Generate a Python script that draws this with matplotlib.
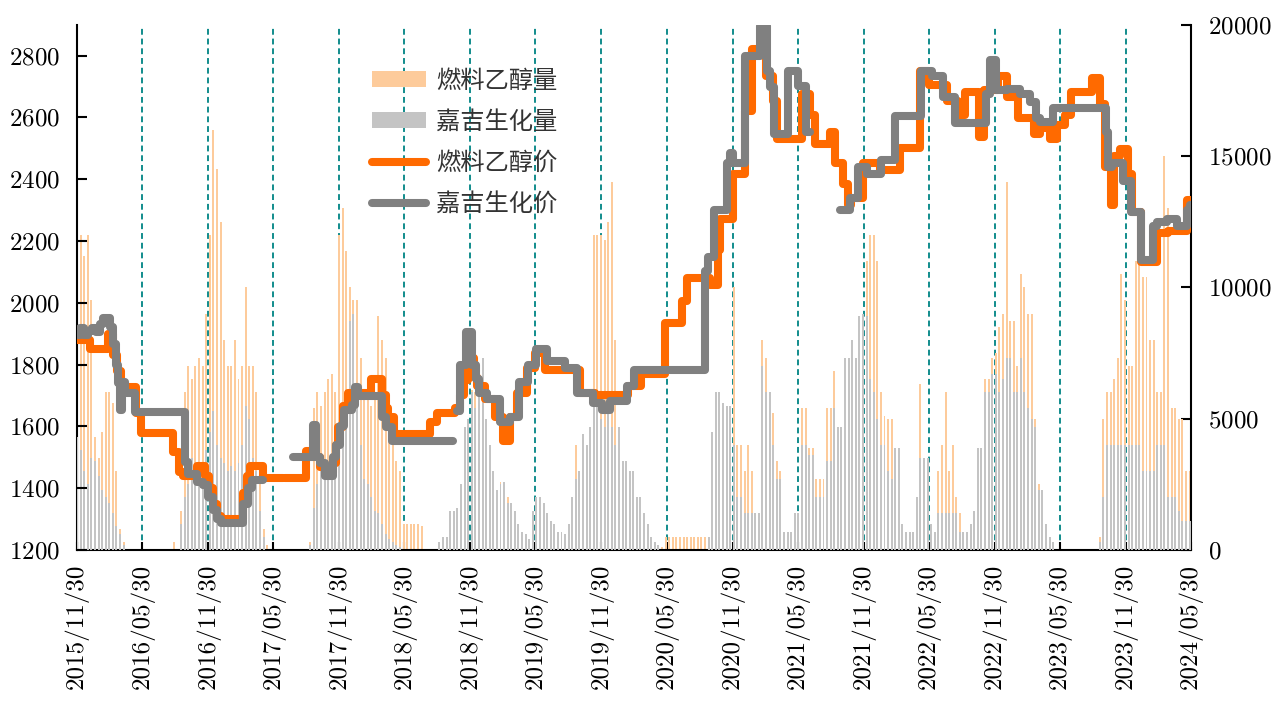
import numpy as np
import pandas as pd
import matplotlib
matplotlib.use("Agg")
import matplotlib.pyplot as plt

plt.rcParams['font.family'] = ['cmr10', 'Noto Sans CJK SC', 'DejaVu Sans']
plt.rcParams['axes.formatter.use_mathtext'] = True

# ---- volume (right axis), one value per 10 days starting 2015-11-30 ----
vol_start = '2015-11-30'
ethanol_vol = [
    # 2015/11 - 2016/05
    11500, 12000, 11200, 12000, 9500, 4300, 3500, 4500, 6000, 6000, 5600, 3000, 800, 300, 0, 0, 0, 0,
    # 2016/05 - 2016/11
    0, 0, 0, 0, 0, 0, 0, 0, 0, 300, 0,
    1500, 6000, 7000, 6500, 7000, 7300, 7000, 9000,
    # 2016/11 - 2017/05
    12000, 16000, 14500, 12500, 8000, 7000, 7000, 8000, 6500, 7000, 10000, 7000, 7000, 6000, 2500, 800, 200, 0,
    # 2017/05 - 2018/05
    0, 0, 0, 0, 0, 0, 0, 0, 0, 0,
    300, 5400, 6000, 5500, 6000, 6500, 6700, 6000, 12000, 13000, 11400, 10000, 9500, 9500, 7300, 6000,
    6000, 5500, 6000, 8900, 8000, 7300, 5400, 5000, 3400, 3000,
    # 2018/05 - 2019/05
    1000, 1000, 1000, 1000, 1000, 900,
    0, 0, 0, 0, 0, 0, 0, 0, 0,
    200, 300, 500, 1500, 6100, 6000, 6000, 4000, 4000, 2000, 2000, 2000, 2600, 2600, 2000, 1500, 1000,
    500, 300, 200, 100,
    # 2019/05 - 2020/05
    200, 1000, 1400, 1000, 800, 600, 400, 300, 200, 200, 200, 1500, 4000, 2000, 2000, 2500, 3400,
    12000, 12000, 12000, 11800, 12500, 14000, 8000, 3000, 3000, 2500, 2500, 2000, 2000, 1000, 700,
    400, 300, 300, 200, 100,
    # 2020/05 - 2020/11
    500, 500, 500, 500, 500, 500, 500, 500, 500, 500, 500, 500, 500,
    # 2020/11 - 2021/11
    300, 800, 1500, 2000, 3000, 4500, 10000, 4000, 4000, 3000, 4000, 3000, 1400, 1400, 8000, 7300,
    5200, 5200, 3400, 3000, 700, 700, 700, 700, 700, 5400, 5400, 3900, 3900, 2700, 2700, 2700, 5400,
    5400, 6800, 4700, 4700, 4700, 4700, 4700,
    # 2021/11 - 2023/05
    5000, 5000, 8000, 11000, 12000, 12000, 11000, 6000, 5100, 5000, 5000, 3000, 3000, 700, 500, 700,
    500, 2000, 6300, 3000, 2500, 500, 700, 3000, 4000, 6000, 3000, 4000, 2000, 1400, 700, 500, 400,
    500, 1500, 2500, 6500, 6500, 7300, 7500, 8500, 9000, 14000, 8700, 8700, 7000, 10500, 10000, 9000,
    9000, 5000, 2500, 1500, 500, 300,
    # 2023/05 - 2024/05
    0, 0, 0, 0, 0, 0, 0, 0, 0, 0, 0, 0, 0,
    500, 5000, 6000, 6000, 6500, 7300, 10500, 9500, 7000, 7000, 11000, 11000, 10400, 10400, 8000,
    8000, 6000, 6000, 15000, 13000, 5400, 5400, 5000, 5000, 3000, 3000,
]
jiaji_vol = [
    4300, 3800, 3000, 2500, 3500, 3400, 2800, 2300, 2000, 1800, 1400, 900, 600, 200, 0, 0, 0, 0,
    0, 0, 0, 0, 0, 0, 0, 0, 0, 0, 0,
    1000, 2000, 2500, 3500, 2800, 3000, 3200, 3800,
    4500, 5300, 4000, 3500, 3300, 3000, 3200, 3000, 3300, 4000, 5500, 5000, 3500, 3000, 1500, 500, 0, 0,
    0, 0, 0, 0, 0, 0, 0, 0, 0, 0,
    200, 1600, 2500, 3400, 3000, 3000, 2700, 2700, 3500, 4700, 4700, 8700, 9000, 5400, 4000, 2700,
    2500, 2000, 1500, 1400, 1000, 600, 400, 300, 200, 100,
    0, 0, 0, 0, 0, 0, 0, 0, 0, 0,
    300, 500, 500, 1500, 1500, 1600, 2500, 4700, 5000, 6000, 5400, 6700, 7300, 5000, 4000, 3000,
    2300, 2500, 2600, 1800, 1800, 1500, 1000, 700, 600, 400,
    1500, 2000, 2000, 1800, 1400, 1100, 1000, 700, 700, 600, 1000, 2000, 2700, 3000, 4400, 4000,
    4700, 5900, 5900, 5000, 4700, 5400, 4700, 4000, 4700, 3400, 3400, 3000, 3000, 2000, 2000, 1400,
    1000, 500, 300, 200, 0,
    0, 0, 0, 0, 0, 0, 0, 0, 0, 0, 0, 0, 500,
    4500, 6000, 6000, 5600, 5500, 5500, 4000, 2000, 2000, 1400, 1400, 1400, 1400, 1400, 7000, 6000,
    6000, 4000, 2700, 2700, 700, 700, 700, 1400, 1400, 4000, 4000, 3600, 3600, 2000, 2000, 2000, 3400,
    3400, 5400, 4700, 4700, 7300, 7300, 8000,
    7300, 8900, 9000, 8900, 6500, 6000, 5000, 4000, 4000, 3000, 2700, 3900, 3900, 1000, 700, 700,
    700, 2000, 3500, 3500, 3500, 1000, 700, 1400, 1400, 1400, 1400, 1400, 1400, 700, 700, 700, 1000,
    1500, 3900, 3900, 6000, 6000, 6700, 6700, 6000, 6500, 7300, 7300, 6000, 6000, 7300, 6000, 5400,
    5000, 4700, 2300, 2300, 1000, 500,
    300, 0, 0, 0, 0, 0, 0, 0, 0, 0, 0, 0, 0,
    300, 2000, 4000, 4000, 4000, 4000, 4000, 4000, 4000, 4000, 4000, 4000, 3000, 3000, 3000, 3000,
    4000, 4000, 4000, 2000, 2000, 2000, 1500, 1100, 1100, 1100,
]

# ---- prices (left axis), step points (date, value); nan = no quote ----
nan = np.nan
ethanol_price = [
    ('2015-11-30', 1880), ('2016-01-05', 1850), ('2016-02-24', 1900), ('2016-03-09', 1830),
    ('2016-03-20', 1780), ('2016-04-01', 1726), ('2016-05-12', 1642), ('2016-05-26', 1580),
    ('2016-08-24', 1518), ('2016-09-09', 1451), ('2016-09-20', 1440), ('2016-10-29', 1473),
    ('2016-11-20', 1440), ('2016-12-02', 1400), ('2016-12-13', 1350), ('2016-12-24', 1310),
    ('2017-01-04', 1300), ('2017-03-06', 1384), ('2017-03-18', 1440), ('2017-03-26', 1473),
    ('2017-05-01', 1434), ('2017-06-26', nan), ('2017-07-02', 1434), ('2017-08-29', 1521),
    ('2017-09-18', 1500), ('2017-10-07', 1470), ('2017-10-24', 1450), ('2017-11-12', 1480),
    ('2017-11-21', 1540), ('2017-11-26', 1597), ('2017-12-10', 1665), ('2017-12-24', 1708),
    ('2018-02-26', 1754), ('2018-03-29', 1700), ('2018-04-09', 1660), ('2018-04-14', 1631),
    ('2018-05-01', 1575), ('2018-08-10', 1614), ('2018-08-29', 1642), ('2018-10-18', 1660),
    ('2018-11-01', 1700), ('2018-11-12', 1750), ('2018-11-23', 1822), ('2018-12-10', 1760),
    ('2018-12-18', 1732), ('2019-01-10', 1687), ('2019-02-07', 1631), ('2019-03-01', 1552),
    ('2019-03-20', 1631), ('2019-04-09', 1709), ('2019-05-07', 1788), ('2019-05-29', 1839),
    ('2019-06-26', 1782), ('2019-10-02', 1709), ('2019-11-12', 1700), ('2020-02-12', 1732),
    ('2020-03-19', 1771), ('2020-05-25', 1934), ('2020-07-12', 2007), ('2020-07-26', 2080),
    ('2020-09-28', 2058), ('2020-10-20', 2170), ('2020-10-26', 2271), ('2020-12-01', 2417),
    ('2021-01-03', 2620), ('2021-01-23', 2822), ('2021-03-03', 2733), ('2021-03-22', 2654),
    ('2021-04-02', 2530), ('2021-06-11', 2677), ('2021-07-03', 2609), ('2021-07-17', 2513),
    ('2021-08-28', 2553), ('2021-09-11', 2451), ('2021-10-03', 2384), ('2021-10-17', 2317),
    ('2021-10-25', 2339), ('2021-11-28', 2451), ('2022-01-14', 2430), ('2022-03-11', 2501),
    ('2022-05-06', 2749), ('2022-05-31', 2704), ('2022-07-20', 2654), ('2022-08-20', 2609),
    ('2022-09-08', 2682), ('2022-10-17', 2536), ('2022-10-31', 2688), ('2022-12-09', 2733),
    ('2023-01-03', 2665), ('2023-02-03', 2598), ('2023-03-19', 2547), ('2023-04-05', 2564),
    ('2023-05-03', 2530), ('2023-05-23', 2575), ('2023-06-14', 2609), ('2023-06-30', 2682),
    ('2023-08-28', 2727), ('2023-09-19', 2643), ('2023-10-03', 2440), ('2023-10-20', 2317),
    ('2023-10-28', 2474), ('2023-11-14', 2496), ('2023-12-06', 2418), ('2023-12-18', 2294),
    ('2024-01-12', 2131), ('2024-02-25', 2226), ('2024-03-27', 2232), ('2024-05-19', 2333),
    ('2024-05-30', 2333),
]
jiaji_price = [
    ('2015-11-30', 1895), ('2015-12-08', 1918), ('2015-12-19', 1895), ('2015-12-31', 1910),
    ('2016-01-11', 1918), ('2016-01-22', 1905), ('2016-02-02', 1930), ('2016-02-11', 1951),
    ('2016-03-01', 1920), ('2016-03-09', 1867), ('2016-03-18', 1800), ('2016-03-23', 1740),
    ('2016-03-29', 1653), ('2016-04-04', 1743), ('2016-04-12', 1709), ('2016-05-10', 1648),
    ('2016-09-26', 1485), ('2016-10-04', 1445), ('2016-10-29', 1420), ('2016-11-15', 1410),
    ('2016-11-29', 1372), ('2016-12-13', 1330), ('2016-12-24', 1300), ('2017-01-04', 1288),
    ('2017-03-06', 1350), ('2017-03-20', 1400), ('2017-03-31', 1428), ('2017-05-01', nan),
    ('2017-07-24', 1500), ('2017-09-18', 1603), ('2017-09-26', 1500), ('2017-10-07', 1480),
    ('2017-10-21', 1440), ('2017-11-12', 1500), ('2017-11-21', 1541), ('2017-12-02', 1600),
    ('2017-12-13', 1653), ('2018-01-04', 1670), ('2018-01-12', 1726), ('2018-01-21', 1698),
    ('2018-03-29', 1631), ('2018-04-09', 1597), ('2018-04-26', 1552), ('2018-10-13', nan),
    ('2018-10-24', 1650), ('2018-11-01', 1800), ('2018-11-18', 1906), ('2018-12-04', 1800),
    ('2018-12-15', 1754), ('2018-12-24', 1709), ('2019-01-15', 1687), ('2019-02-21', 1614),
    ('2019-03-20', 1631), ('2019-04-14', 1743), ('2019-05-10', 1800), ('2019-06-01', 1850),
    ('2019-07-02', 1811), ('2019-08-21', 1788), ('2019-09-23', 1709), ('2019-11-07', 1676),
    ('2019-12-02', 1653), ('2019-12-24', 1681), ('2020-02-09', 1732), ('2020-02-29', 1782),
    ('2020-09-14', 2102), ('2020-09-22', 2148), ('2020-10-09', 2300), ('2020-11-14', 2451),
    ('2020-11-22', 2485), ('2020-12-01', 2451), ('2021-01-03', 2800), ('2021-02-14', 2895),
    ('2021-03-06', 2750), ('2021-03-14', 2699), ('2021-03-25', 2547), ('2021-05-03', 2749),
    ('2021-05-31', 2700), ('2021-06-22', 2553), ('2021-07-03', nan), ('2021-09-25', 2300),
    ('2021-10-23', 2339), ('2021-11-14', 2440), ('2021-12-09', 2417), ('2022-01-17', 2462),
    ('2022-02-25', 2603), ('2022-05-09', 2749), ('2022-06-08', 2733), ('2022-07-09', 2665),
    ('2022-08-11', 2581), ('2022-11-05', 2676), ('2022-11-16', 2784), ('2022-12-03', 2688),
    ('2023-01-03', 2693), ('2023-02-08', 2676), ('2023-03-08', 2648), ('2023-03-25', 2598),
    ('2023-04-05', 2586), ('2023-05-12', 2630), ('2023-10-06', 2553), ('2023-10-12', 2440),
    ('2023-10-23', 2451), ('2023-11-22', 2395), ('2023-12-15', 2294), ('2024-01-12', 2137),
    ('2024-02-14', 2249), ('2024-02-25', 2260), ('2024-03-24', 2272), ('2024-04-21', 2249),
    ('2024-05-19', 2300), ('2024-05-27', 2317), ('2024-05-30', 2317),
]

tick_dates = ['2015-11-30', '2016-05-30', '2016-11-30', '2017-05-30', '2017-11-30', '2018-05-30',
              '2018-11-30', '2019-05-30', '2019-11-30', '2020-05-30', '2020-11-30', '2021-05-30',
              '2021-11-30', '2022-05-30', '2022-11-30', '2023-05-30', '2023-11-30', '2024-05-30']
labels = ['燃料乙醇量', '嘉吉生化量', '燃料乙醇价', '嘉吉生化价']

c_bar_eth = '#FDCB9B'
c_bar_jj = '#C4C4C4'
c_line_eth = '#FF6A00'
c_line_jj = '#808080'

vol_dates = pd.date_range(vol_start, periods=len(ethanol_vol), freq='10D')
ticks = pd.to_datetime(tick_dates)

fig = plt.figure(figsize=(12.88, 7.07), dpi=100)
ax = fig.add_axes([77 / 1288, 1 - 550 / 707, 1114 / 1288, 525.4 / 707])
ax2 = ax.twinx()

# volume bars + half-year guides
for d in ticks[1:-1]:
    ax.axvline(d, color='#118C8C', lw=1.4, ls=(0, (3, 2)), zorder=1)
b1 = ax.bar(vol_dates, ethanol_vol, width=5.5, color=c_bar_eth, linewidth=0, zorder=2)
b2 = ax.bar(vol_dates, jiaji_vol, width=5.5, color=c_bar_jj, linewidth=0, zorder=3)

# price lines
ed, ev = zip(*ethanol_price)
jd, jv = zip(*jiaji_price)
l1, = ax2.plot(pd.to_datetime(ed), ev, drawstyle='steps-post', color=c_line_eth, lw=5.8,
               solid_capstyle='round', solid_joinstyle='round', zorder=3)
l2, = ax2.plot(pd.to_datetime(jd), jv, drawstyle='steps-post', color=c_line_jj, lw=5.8,
               solid_capstyle='round', solid_joinstyle='round', zorder=4)

ax.set_xlim(ticks[0], ticks[-1])
ax.set_ylim(0, 20000)
ax2.set_ylim(1200, 2900)
ax.set_yticks(range(0, 20001, 5000))
ax2.set_yticks(range(1200, 2801, 200))
ax.set_xticks(ticks)
ax.set_xticklabels([d.strftime('%Y/%m/%d') for d in ticks], rotation=90)

ax.yaxis.tick_right()
ax2.yaxis.tick_left()
ax.tick_params(axis='y', direction='in', length=7, width=1.5, labelsize=18, pad=12,
               right=True, left=False, labelright=True, labelleft=False)
ax.tick_params(axis='x', direction='in', length=6, width=1.5, labelsize=18, pad=10)
ax2.tick_params(axis='y', direction='in', length=7, width=1.5, labelsize=18, pad=12,
                left=True, right=False, labelleft=True, labelright=False)

for s in ['left', 'right', 'bottom']:
    ax.spines[s].set_linewidth(1.5)
ax.spines['top'].set_visible(False)
for s in ax2.spines.values():
    s.set_visible(False)

ax2.legend([b1, b2, l1, l2], labels, loc='upper left', bbox_to_anchor=(0.265, 0.918),
           frameon=False, borderaxespad=0, borderpad=0, handlelength=2.2, handleheight=0.62,
           handletextpad=0.42, labelspacing=0.62, labelcolor='#333333',
           prop={'family': ['Noto Sans CJK SC'], 'size': 17.5})

fig.savefig('out.png', dpi=100)
